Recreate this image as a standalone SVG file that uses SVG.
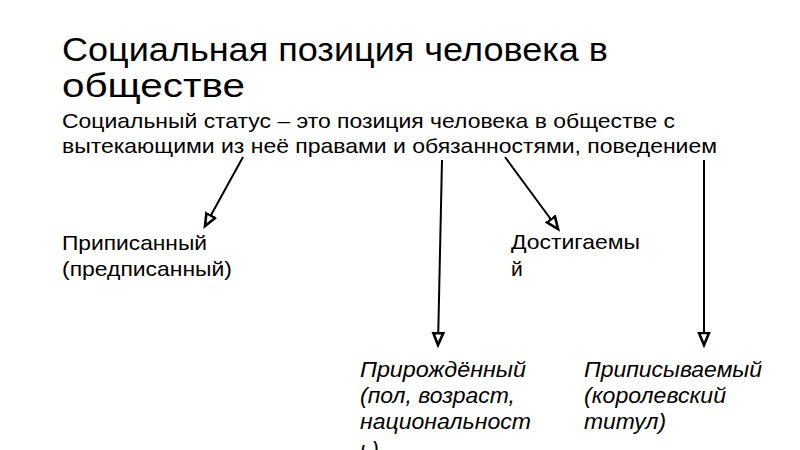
<svg xmlns="http://www.w3.org/2000/svg" width="800" height="450" viewBox="0 0 800 450">
<defs>
<style>
text{font-family:"Liberation Sans",Arial,sans-serif;fill:#000}
.title{font-size:33px}
.sub{font-size:21px}
.lbl{font-size:21px}
.it{font-size:22px;font-style:italic}
.conn line{stroke:#000;stroke-width:2;marker-end:url(#ah)}
</style>
<marker id="ah" markerUnits="userSpaceOnUse" markerWidth="16" markerHeight="14" refX="13" refY="6" orient="auto" viewBox="0 0 16 12">
<path d="M1,1 L13,6 L1,11 Z" fill="#fff" stroke="#000" stroke-width="2.6" stroke-linejoin="miter"/>
</marker>
</defs>
<rect width="800" height="450" fill="#fff"/>
<g id="title">
<text class="title" x="62" y="61" textLength="546" lengthAdjust="spacingAndGlyphs">Социальная позиция человека в</text>
<text class="title" x="62" y="97" textLength="183" lengthAdjust="spacingAndGlyphs">обществе</text>
</g>
<g id="status">
<text class="sub" x="62" y="128" textLength="613" lengthAdjust="spacingAndGlyphs">Социальный статус – это позиция человека в обществе с</text>
<text class="sub" x="62" y="153" textLength="655" lengthAdjust="spacingAndGlyphs">вытекающими из неё правами и обязанностями, поведением</text>
</g>
<g class="conn" id="connectors">
<line x1="243" y1="157" x2="205" y2="226"/>
<line x1="442" y1="160" x2="438" y2="345"/>
<line x1="505" y1="157" x2="558" y2="229"/>
<line x1="704" y1="160" x2="704" y2="345"/>
</g>
<g id="ascribed">
<text class="lbl" x="62" y="250" textLength="145" lengthAdjust="spacingAndGlyphs">Приписанный</text>
<text class="lbl" x="62" y="276" textLength="170" lengthAdjust="spacingAndGlyphs">(предписанный)</text>
</g>
<g id="achieved">
<text class="lbl" x="511" y="249" textLength="129" lengthAdjust="spacingAndGlyphs">Достигаемы</text>
<text class="lbl" x="511" y="276">й</text>
</g>
<g id="innate">
<text class="it" x="360" y="377" textLength="166" lengthAdjust="spacingAndGlyphs">Прирождённый</text>
<text class="it" x="360" y="403" textLength="155" lengthAdjust="spacingAndGlyphs">(пол, возраст,</text>
<text class="it" x="360" y="429" textLength="171" lengthAdjust="spacingAndGlyphs">национальност</text>
<text class="it" x="360" y="457">ь)</text>
</g>
<g id="attributed">
<text class="it" x="584" y="377" textLength="178" lengthAdjust="spacingAndGlyphs">Приписываемый</text>
<text class="it" x="584" y="403" textLength="142" lengthAdjust="spacingAndGlyphs">(королевский</text>
<text class="it" x="584" y="429" textLength="82" lengthAdjust="spacingAndGlyphs">титул)</text>
</g>
</svg>
